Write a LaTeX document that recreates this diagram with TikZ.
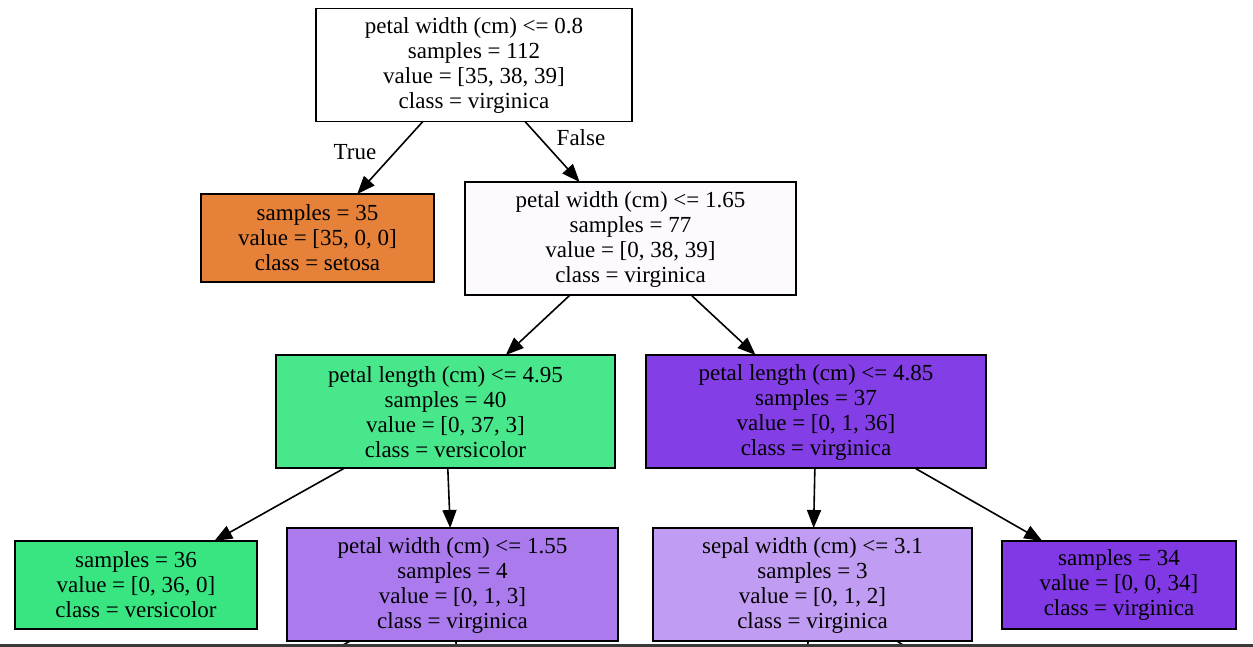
\documentclass[tikz,border=0pt]{standalone}
\usepackage{fontspec}
\setmainfont{Liberation Serif}
\usetikzlibrary{arrows.meta}
\definecolor{setosa}{HTML}{E58139}
\definecolor{verspure}{HTML}{39E581}
\definecolor{versmix}{HTML}{49E78B}
\definecolor{virgpure}{HTML}{8139E5}
\definecolor{virgA}{HTML}{843EE6}
\definecolor{virgB}{HTML}{AB7BEE}
\definecolor{virgC}{HTML}{C09CF2}
\definecolor{virgD}{HTML}{FCFAFE}
\definecolor{barcol}{HTML}{3A3A3A}
\tikzset{
  treebox/.style={draw=black, line width=1.5pt, rectangle, align=center, outer sep=0pt, inner sep=0pt,
    font=\fontsize{23}{25}\selectfont},
  splitbox/.style={treebox, minimum height=113pt},
  leafbox/.style={treebox, minimum height=88pt},
  edge/.style={draw=black, line width=1.6pt, -{Triangle[length=18pt,width=14pt]}},
  edgelabel/.style={font=\fontsize{23}{25}\selectfont, inner sep=0pt}
}
\begin{document}
\begin{tikzpicture}[x=1pt,y=-1pt]
\useasboundingbox (0,0) rectangle (1253,647);
\clip (0,0) rectangle (1253,647);
\fill[white] (0,0) rectangle (1253,647);

\node[splitbox, fill=white, minimum width=316pt] (root) at (474,65)
  {\strut petal width (cm) <= 0.8\\samples = 112\\value = [35, 38, 39]\\class = virginica};
\node[leafbox, fill=setosa, minimum width=233pt] (setosa) at (317.5,238)
  {samples = 35\\value = [35, 0, 0]\\class = setosa};
\node[splitbox, fill=virgD, minimum width=331pt] (n2) at (630.5,238.5)
  {\strut petal width (cm) <= 1.65\\samples = 77\\value = [0, 38, 39]\\class = virginica};
\node[splitbox, fill=versmix, minimum width=339pt] (n3) at (445.5,411.5)
  {\strut petal length (cm) <= 4.95\\samples = 40\\value = [0, 37, 3]\\class = versicolor};
\node[splitbox, fill=virgA, minimum width=340pt] (n4) at (816,411.5)
  {\strut petal length (cm) <= 4.85\\samples = 37\\value = [0, 1, 36]\\class = virginica};
\node[leafbox, fill=verspure, minimum width=242pt] (leafA) at (136,585)
  {samples = 36\\value = [0, 36, 0]\\class = versicolor};
\node[splitbox, fill=virgB, minimum width=331pt] (n5) at (452.5,584.5)
  {\strut petal width (cm) <= 1.55\\samples = 4\\value = [0, 1, 3]\\class = virginica};
\node[splitbox, fill=virgC, minimum width=319pt] (n6) at (812.5,584.5)
  {\strut sepal width (cm) <= 3.1\\samples = 3\\value = [0, 1, 2]\\class = virginica};
\node[leafbox, fill=virgpure, minimum width=234pt] (leafB) at (1119,585)
  {samples = 34\\value = [0, 0, 34]\\class = virginica};

\coordinate (h1) at (138,758);
\coordinate (h2) at (463,758);
\coordinate (h3) at (799,758);
\coordinate (h4) at (1072,758);

\draw[edge] (root) -- (setosa);
\draw[edge] (root) -- (n2);
\draw[edge] (n2) -- (n3);
\draw[edge] (n2) -- (n4);
\draw[edge] (n3) -- (leafA);
\draw[edge] (n3) -- (n5);
\draw[edge] (n4) -- (n6);
\draw[edge] (n4) -- (leafB);
\draw[edge] (n5) -- (h1);
\draw[edge] (n5) -- (h2);
\draw[edge] (n6) -- (h3);
\draw[edge] (n6) -- (h4);

\node[edgelabel] (lt) at (355,152) {True};
\node[edgelabel] (lf) at (581,138) {False};

\fill[barcol] (0,644) rectangle (1253,647);
\end{tikzpicture}
\end{document}
